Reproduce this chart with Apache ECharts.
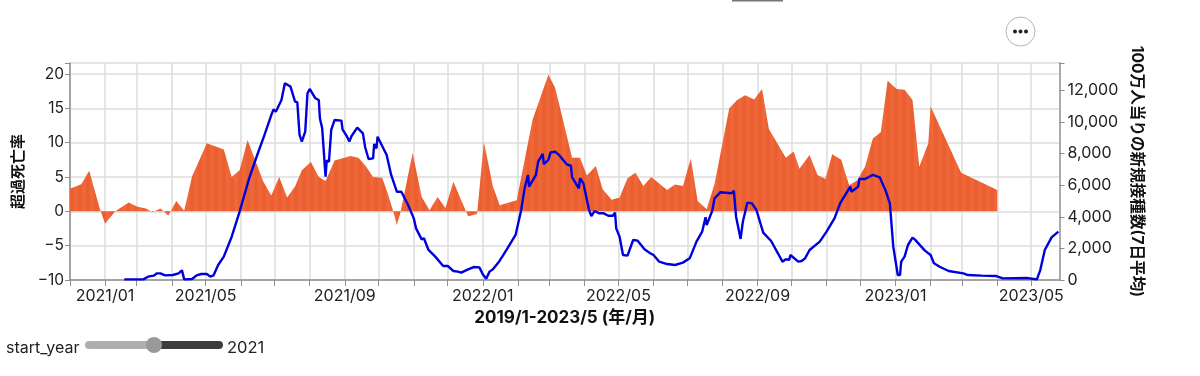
<!DOCTYPE html>
<html>
<head>
<meta charset="utf-8">
<style>
	html, body { margin: 0; padding: 0; background: #fff; }
	#main { width: 1200px; height: 376px; }
</style>
<script src="https://cdn.jsdelivr.net/npm/echarts@6/dist/echarts.min.js"></script>
</head>
<body>
<div id="main"></div>
<script>
// excess mortality (%)
var excessDates = ['2021-01-01','2021-01-11','2021-01-18','2021-01-27','2021-02-01','2021-02-10','2021-02-22','2021-03-01','2021-03-09','2021-03-15','2021-03-22','2021-03-29','2021-04-05','2021-04-12','2021-04-19','2021-05-02','2021-05-17','2021-05-24','2021-05-31','2021-06-07','2021-06-21','2021-06-28','2021-07-05','2021-07-12','2021-07-19','2021-07-25','2021-08-02','2021-08-09','2021-08-15','2021-08-23','2021-09-06','2021-09-13','2021-09-19','2021-09-26','2021-10-04','2021-10-09','2021-10-14','2021-10-17','2021-10-20','2021-10-31','2021-11-08','2021-11-15','2021-11-22','2021-11-29','2021-12-06','2021-12-19','2021-12-27','2022-01-02','2022-01-10','2022-01-16','2022-01-31','2022-02-14','2022-02-28','2022-03-06','2022-03-21','2022-03-28','2022-04-03','2022-04-11','2022-04-17','2022-04-25','2022-05-02','2022-05-09','2022-05-16','2022-05-23','2022-05-30','2022-06-13','2022-06-20','2022-06-27','2022-07-04','2022-07-10','2022-07-18','2022-07-25','2022-08-07','2022-08-14','2022-08-21','2022-08-29','2022-09-05','2022-09-11','2022-09-26','2022-10-03','2022-10-08','2022-10-17','2022-10-24','2022-10-31','2022-11-06','2022-11-14','2022-11-21','2022-11-28','2022-12-05','2022-12-12','2022-12-19','2022-12-25','2023-01-02','2023-01-09','2023-01-16','2023-01-22','2023-01-30','2023-02-01','2023-02-28','2023-04-01'];
var excessValues = [3.3,3.95,5.9,0.6,-1.8,0,1.3,0.7,0.4,-0.1,0.4,-0.6,1.5,0.1,5.1,9.9,9.0,5.0,6.0,10.4,4.3,2.3,5.0,2.0,3.6,6.0,7.2,5.0,4.4,7.4,8.05,7.8,6.7,5.0,4.9,2.6,-0.1,-2.0,-0.3,8.5,2.1,0.15,2.1,0.5,4.3,-0.7,-0.4,10.1,3.6,0.9,1.6,13.3,19.9,18,7.8,7.8,5.2,6.6,3.2,1.7,2.0,4.8,5.6,3.7,5.0,3.1,3.9,3.7,7.7,1.5,0.3,4.0,15,16.2,16.9,16.3,17.8,12.0,7.8,8.7,6.2,8.2,5.3,4.7,8.3,7.5,3.8,4.5,6.5,10.6,11.5,19,17.8,17.7,16.2,6.5,9.9,15.3,5.6,3.1];

// new vaccinations per million, 7 day average
var vaccDates = ['2021-02-18','2021-03-07','2021-03-11','2021-03-16','2021-03-19','2021-03-22','2021-03-26','2021-04-02','2021-04-07','2021-04-10','2021-04-11','2021-04-12','2021-04-19','2021-04-23','2021-04-27','2021-05-02','2021-05-05','2021-05-08','2021-05-12','2021-05-17','2021-05-24','2021-05-31','2021-06-08','2021-06-15','2021-06-22','2021-06-28','2021-06-30','2021-07-02','2021-07-07','2021-07-10','2021-07-11','2021-07-15','2021-07-19','2021-07-21','2021-07-23','2021-07-25','2021-07-28','2021-07-30','2021-08-01','2021-08-06','2021-08-09','2021-08-10','2021-08-12','2021-08-15','2021-08-16','2021-08-18','2021-08-20','2021-08-23','2021-08-29','2021-08-30','2021-09-03','2021-09-05','2021-09-07','2021-09-12','2021-09-17','2021-09-19','2021-09-22','2021-09-26','2021-09-27','2021-09-29','2021-09-30','2021-10-08','2021-10-09','2021-10-12','2021-10-17','2021-10-21','2021-10-27','2021-11-01','2021-11-03','2021-11-08','2021-11-10','2021-11-14','2021-11-20','2021-11-27','2021-12-01','2021-12-06','2021-12-10','2021-12-13','2021-12-19','2021-12-24','2021-12-29','2022-01-01','2022-01-04','2022-01-07','2022-01-10','2022-01-16','2022-01-22','2022-01-30','2022-02-04','2022-02-07','2022-02-10','2022-02-11','2022-02-17','2022-02-19','2022-02-23','2022-02-24','2022-02-28','2022-03-02','2022-03-06','2022-03-10','2022-03-16','2022-03-20','2022-03-21','2022-03-27','2022-03-28','2022-03-31','2022-04-05','2022-04-07','2022-04-10','2022-04-14','2022-04-18','2022-04-22','2022-04-26','2022-04-28','2022-04-29','2022-05-02','2022-05-05','2022-05-06','2022-05-09','2022-05-14','2022-05-18','2022-05-24','2022-05-29','2022-06-01','2022-06-06','2022-06-13','2022-06-20','2022-06-27','2022-07-03','2022-07-09','2022-07-14','2022-07-17','2022-07-18','2022-07-23','2022-07-25','2022-07-30','2022-08-09','2022-08-11','2022-08-13','2022-08-17','2022-08-19','2022-08-23','2022-08-27','2022-08-31','2022-09-06','2022-09-13','2022-09-19','2022-09-23','2022-09-26','2022-09-29','2022-09-30','2022-10-07','2022-10-10','2022-10-13','2022-10-17','2022-10-26','2022-11-01','2022-11-02','2022-11-08','2022-11-13','2022-11-22','2022-11-23','2022-11-29','2022-11-30','2022-12-05','2022-12-12','2022-12-18','2022-12-23','2022-12-27','2022-12-30','2023-01-03','2023-01-05','2023-01-06','2023-01-09','2023-01-12','2023-01-16','2023-01-18','2023-01-27','2023-02-01','2023-02-04','2023-02-09','2023-02-17','2023-02-18','2023-03-02','2023-03-06','2023-03-18','2023-03-31','2023-04-06','2023-04-27','2023-05-06','2023-05-09','2023-05-13','2023-05-19','2023-05-25'];
var vaccValues = [40,40,210,275,420,420,295,315,420,610,610,40,60,295,380,380,210,295,950,1480,2740,4325,6330,7800,9180,10440,10800,10650,11390,12450,12550,12240,11290,11250,9180,8760,9390,11820,12090,11500,11390,10230,9600,6540,7550,7490,9500,10130,10090,9540,9070,8760,9115,9640,9280,8400,7660,7700,8610,8330,9070,7910,7850,6650,5590,5590,4750,3900,3270,2570,2640,1900,1480,890,890,570,530,465,675,820,800,360,85,530,675,1220,1900,2850,4430,5800,6650,5910,6650,7490,7980,7340,7600,8080,8120,7870,7340,7220,6500,5800,6440,6120,4430,4050,4370,4220,4220,4070,4070,4260,3270,2740,1580,1690,1540,2530,2490,1940,1690,1580,1160,1010,950,1100,1370,2430,3060,3970,3480,4390,5170,5550,5490,5650,4010,2600,3690,4900,4850,4430,3000,2470,1690,1160,1310,1270,1580,1160,1200,1370,1900,2430,3060,2950,3900,4850,5910,5590,5910,6390,6390,6650,6500,5700,4850,2110,315,315,1160,1480,2215,2680,2570,1860,1580,1055,840,570,675,420,315,275,250,105,125,40,630,1900,2700,3060];

var excessSeries = excessDates.map(function (d, i) { return [d, excessValues[i]]; });
var vaccSeries = vaccDates.map(function (d, i) { return [d, vaccValues[i]]; });

var labelFont = 'Inter, "Noto Sans CJK JP", sans-serif';
var gridColor = '#dcdcdc';
var axisColor = '#8f8f8f';

// faint vertical banding seen in the filled area
function stripePattern() {
	var c = document.createElement('canvas');
	c.width = 8;
	c.height = 8;
	var ctx = c.getContext('2d');
	var g = ctx.createLinearGradient(0, 0, 8, 0);
	g.addColorStop(0, '#e95c2d');
	g.addColorStop(0.5, '#f06a3c');
	g.addColorStop(1, '#e95c2d');
	ctx.fillStyle = g;
	ctx.fillRect(0, 0, 8, 8);
	return c;
}

var mychart = echarts.init(document.getElementById('main'));
var option = {
	animation: false,
	backgroundColor: '#fff',
	grid: { left: 70, right: 140.5, top: 63, height: 217, containLabel: false },
	xAxis: {
		type: 'time',
		min: '2021-01-01',
		max: '2023-05-26',
		minInterval: 28 * 86400000,
		maxInterval: 31 * 86400000,
		splitNumber: 30,
		name: '2019/1-2023/5 (年/月)',
		nameLocation: 'middle',
		nameGap: 26,
		nameTextStyle: { fontFamily: labelFont, fontSize: 17, fontWeight: 'bold', color: '#111' },
		axisLine: { onZero: false, lineStyle: { color: axisColor, width: 1.5 } },
		axisTick: { length: 6, lineStyle: { color: axisColor } },
		axisLabel: {
			interval: 0,
			hideOverlap: false,
			margin: 8,
			color: '#222',
			fontFamily: labelFont,
			fontSize: 16,
			rich: {
				first: { padding: [0, 0, 0, 70], color: '#222', fontFamily: labelFont, fontSize: 16 }
			},
			formatter: function (value) {
				var d = new Date(value);
				var m = d.getMonth() + 1;
				if (d.getDate() !== 1 || (m - 1) % 4 !== 0) return '';
				var text = d.getFullYear() + '/' + (m < 10 ? '0' + m : m);
				if (text === '2021/01') return '{first|' + text + '}';
				return text;
			}
		},
		splitLine: { show: true, lineStyle: { color: gridColor, width: 1.5 } }
	},
	yAxis: [{
		type: 'value',
		min: -10,
		max: 21.6,
		interval: 5,
		name: '超過死亡率',
		nameLocation: 'middle',
		nameGap: 44,
		nameTextStyle: { fontFamily: labelFont, fontSize: 15, fontWeight: 'bold', color: '#111' },
		axisLine: { show: true, onZero: false, lineStyle: { color: axisColor, width: 1.5 } },
		axisTick: { show: true, length: 5, lineStyle: { color: axisColor } },
		axisLabel: {
			color: '#222', fontFamily: labelFont, fontSize: 15.5, margin: 6,
			formatter: function (v) {
				if (v % 5 !== 0) return '';
				return v < 0 ? '\u2212' + Math.abs(v) : String(v);
			}
		},
		splitLine: { show: true, lineStyle: { color: gridColor, width: 1.5 } }
	}, {
		type: 'value',
		min: 0,
		max: 13734,
		interval: 2000,
		position: 'right',
		name: '100万人当りの新規接種数(7日平均)',
		nameLocation: 'middle',
		nameRotate: -90,
		nameGap: 67,
		nameTextStyle: { fontFamily: labelFont, fontSize: 15.6, fontWeight: 'bold', color: '#111' },
		axisLine: { show: true, lineStyle: { color: '#aaa', width: 2 } },
		axisTick: { show: true, length: 5, lineStyle: { color: axisColor } },
		axisLabel: {
			color: '#222', fontFamily: labelFont, fontSize: 16, margin: 8,
			formatter: function (v) {
				if (v % 2000 !== 0) return '';
				return v.toLocaleString('en-US');
			}
		},
		splitLine: { show: false }
	}],
	series: [{
		name: '超過死亡率',
		type: 'line',
		yAxisIndex: 0,
		data: excessSeries,
		showSymbol: false,
		lineStyle: { width: 0 },
		areaStyle: { color: { image: stripePattern(), repeat: 'repeat' }, opacity: 1 },
		silent: true,
		z: 2
	}, {
		name: '100万人当りの新規接種数(7日平均)',
		type: 'line',
		yAxisIndex: 1,
		data: vaccSeries,
		showSymbol: false,
		lineStyle: { color: '#0000dc', width: 2.4 },
		silent: true,
		z: 3
	}],
	graphic: [
		// sliver of the element above the chart
		{ type: 'rect', shape: { x: 732, y: 0, width: 51, height: 1.5 }, style: { fill: '#777' } },
		// menu button
		{ type: 'circle', shape: { cx: 1020.5, cy: 31.5, r: 14.5 }, style: { fill: '#fff', stroke: '#b5b5b5', lineWidth: 1 } },
		{ type: 'circle', shape: { cx: 1015, cy: 31.5, r: 2 }, style: { fill: '#222' } },
		{ type: 'circle', shape: { cx: 1020.5, cy: 31.5, r: 2 }, style: { fill: '#222' } },
		{ type: 'circle', shape: { cx: 1026, cy: 31.5, r: 2 }, style: { fill: '#222' } },
		// year slider
		{ type: 'text', left: 6, top: 340, style: { text: 'start_year', fontFamily: labelFont, fontSize: 16, fill: '#222' } },
		{ type: 'rect', shape: { x: 85, y: 341, width: 75, height: 8, r: 4 }, style: { fill: '#afafaf' } },
		{ type: 'rect', shape: { x: 150, y: 341, width: 73, height: 8, r: 4 }, style: { fill: '#3c3c3c' } },
		{ type: 'circle', shape: { cx: 154, cy: 345, r: 8 }, style: { fill: '#999' } },
		{ type: 'text', left: 227, top: 340, style: { text: '2021', fontFamily: labelFont, fontSize: 16.5, fill: '#222' } }
	]
};
mychart.setOption(option);
</script>
</body>
</html>
